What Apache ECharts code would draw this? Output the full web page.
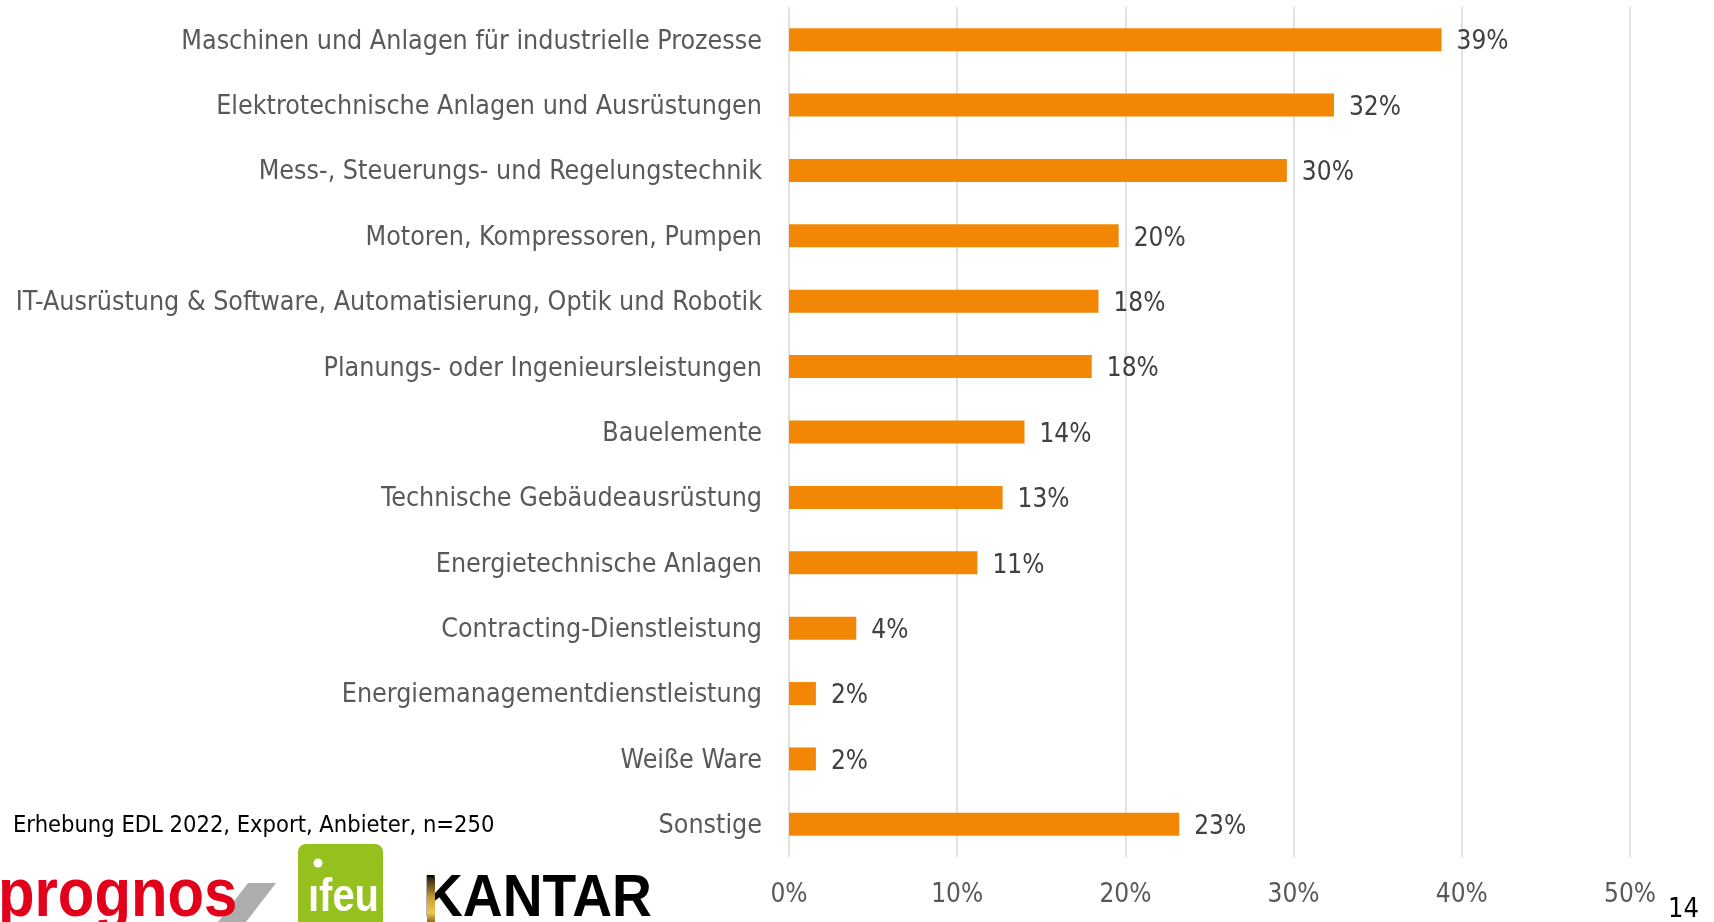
<!DOCTYPE html>
<html>
<head>
<meta charset="utf-8">
<script src="https://cdn.jsdelivr.net/npm/echarts@6/dist/echarts.min.js"></script>
<style>
  html, body { margin: 0; padding: 0; background: #fff; }
  #chart { width: 1714px; height: 922px; }
</style>
</head>
<body>
<div id="chart"></div>
<script>
const categories = [
  'Maschinen und Anlagen für industrielle Prozesse',
  'Elektrotechnische Anlagen und Ausrüstungen',
  'Mess-, Steuerungs- und Regelungstechnik',
  'Motoren, Kompressoren, Pumpen',
  'IT-Ausrüstung & Software, Automatisierung, Optik und Robotik',
  'Planungs- oder Ingenieursleistungen',
  'Bauelemente',
  'Technische Gebäudeausrüstung',
  'Energietechnische Anlagen',
  'Contracting-Dienstleistung',
  'Energiemanagementdienstleistung',
  'Weiße Ware',
  'Sonstige',
];
const shares = [38.8, 32.4, 29.6, 19.6, 18.4, 18.0, 14.0, 12.7, 11.2, 4.0, 1.6, 1.6, 23.2];
const xTicks = [0, 10, 20, 30, 40, 50];
const note = 'Erhebung EDL 2022, Export, Anbieter, n=250';
const pageNo = '14';

const font = "'Liberation Sans Narrow', 'DejaVu Sans Condensed', Lato, sans-serif";
const grey = '#595959';

const chart = echarts.init(document.getElementById('chart'));

chart.setOption({
  animation: false,
  grid: { left: 789, right: 84, top: 7, bottom: 65, containLabel: false },
  xAxis: {
    type: 'value',
    min: xTicks[0],
    max: xTicks[xTicks.length - 1],
    interval: 10,
    axisLine: { show: false },
    axisTick: { show: false },
    splitLine: { lineStyle: { color: '#d9d9d9', width: 1.5 } },
    axisLabel: {
      margin: 25,
      color: grey,
      fontFamily: font,
      fontSize: 26,
      formatter: (v) => v + '%',
    },
  },
  yAxis: {
    type: 'category',
    inverse: true,
    data: categories,
    axisLine: { show: false },
    axisTick: { show: false },
    axisLabel: {
      margin: 27,
      formatter: (v) => '{c|' + v + '}',
      rich: {
        c: {
          color: grey,
          fontFamily: font,
          fontSize: 26.6,
          padding: [4, 0, 0, 0],
        },
      },
    },
  },
  series: [
    {
      type: 'bar',
      data: shares,
      barWidth: 23,
      itemStyle: { color: '#f28705' },
      label: {
        show: true,
        position: 'right',
        distance: 15,
        offset: [0, 3],
        color: '#404040',
        fontFamily: font,
        fontSize: 26,
        formatter: (p) => Math.round(p.value) + '%',
      },
    },
  ],
  graphic: [
    {
      type: 'text',
      left: 13,
      top: 814,
      style: { text: note, fill: '#000', font: '23.5px ' + font },
    },
    {
      type: 'text',
      left: 1668,
      top: 896,
      style: { text: pageNo, fill: '#000', font: '27px ' + font },
    },
    // prognos logo
    {
      type: 'polygon',
      shape: { points: [[248, 883], [276, 883], [246, 922], [218, 922]] },
      style: { fill: '#adadad' },
    },
    {
      type: 'text',
      x: -2,
      y: 897,
      scaleX: 0.88,
      style: {
        text: 'prognos',
        fill: '#e2001a',
        font: 'bold 68px Liberation Sans, Arial, sans-serif',
        verticalAlign: 'middle',
      },
    },
    // ifeu logo
    {
      type: 'rect',
      shape: { x: 298, y: 844, width: 85, height: 90, r: 8 },
      style: { fill: '#95c11f' },
    },
    {
      type: 'text',
      x: 308,
      y: 898,
      scaleX: 0.85,
      style: {
        text: 'ıfeu',
        fill: '#fff',
        font: 'bold 47px Liberation Sans, sans-serif',
        verticalAlign: 'middle',
      },
    },
    {
      type: 'circle',
      shape: { cx: 318, cy: 863, r: 4.5 },
      style: { fill: '#fff' },
    },
    // KANTAR logo
    {
      type: 'text',
      x: 423,
      y: 899,
      scaleX: 0.92,
      style: {
        text: 'KANTAR',
        fill: '#000',
        font: 'bold 60px Liberation Sans, sans-serif',
        verticalAlign: 'middle',
      },
    },
    {
      type: 'rect',
      shape: { x: 427, y: 877, width: 8, height: 45 },
      style: {
        fill: new echarts.graphic.LinearGradient(0, 0, 0, 1, [
          { offset: 0, color: '#2a2010' },
          { offset: 0.45, color: '#c89a30' },
          { offset: 0.8, color: '#f0c850' },
          { offset: 1, color: '#8a6a20' },
        ]),
      },
    },
  ],
});
</script>
</body>
</html>
